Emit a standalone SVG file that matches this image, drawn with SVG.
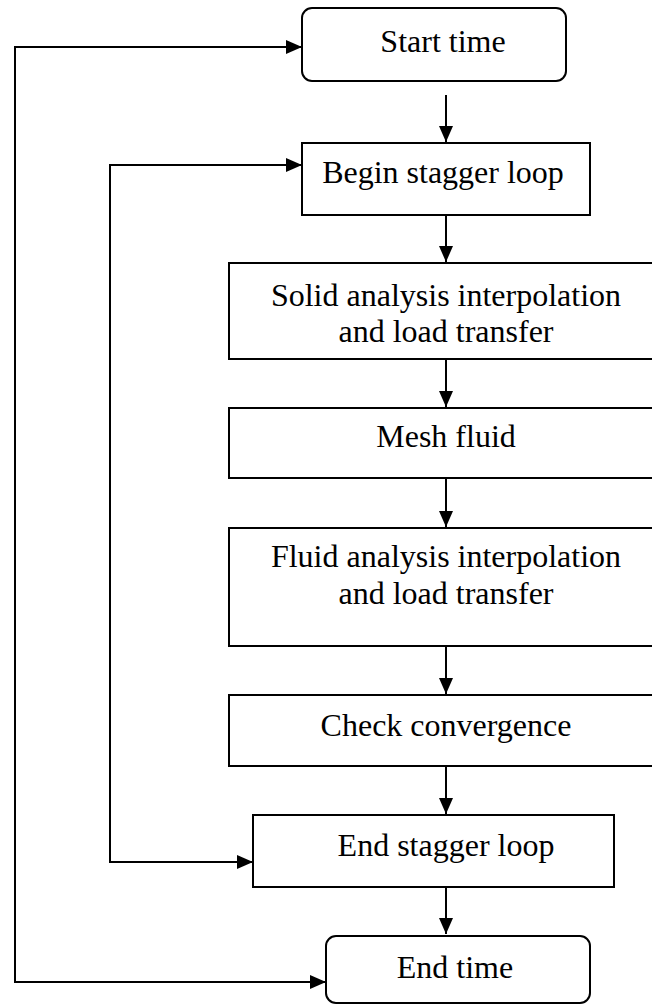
<svg xmlns="http://www.w3.org/2000/svg" width="652" height="1005" viewBox="0 0 652 1005">
<style>
.box{fill:#fff;stroke:#000;stroke-width:2}
.lbl{font-family:"Liberation Serif","Times New Roman",serif;font-size:32px;fill:#000;text-anchor:middle}
.con{fill:none;stroke:#000;stroke-width:2}
</style>
<defs>
<marker id="ah" viewBox="0 0 16 14" refX="16" refY="7" markerWidth="16" markerHeight="14" markerUnits="userSpaceOnUse" orient="auto-start-reverse">
<path d="M0,0 L16,7 L0,14 z" fill="#000"/>
</marker>
</defs>
<rect width="652" height="1005" fill="#fff"/>
<g id="connectors">
<path class="con" d="M446,95 V142" marker-end="url(#ah)"/>
<path class="con" d="M446,215 V262" marker-end="url(#ah)"/>
<path class="con" d="M446,359 V407" marker-end="url(#ah)"/>
<path class="con" d="M446,478 V527" marker-end="url(#ah)"/>
<path class="con" d="M446,646 V694" marker-end="url(#ah)"/>
<path class="con" d="M446,767 V814" marker-end="url(#ah)"/>
<path class="con" d="M446,885 V934" marker-end="url(#ah)"/>
<path class="con" d="M302,47 H15 V982 H326" marker-start="url(#ah)" marker-end="url(#ah)"/>
<path class="con" d="M302,165 H110 V862 H253" marker-start="url(#ah)" marker-end="url(#ah)"/>
</g>
<g id="start-time">
<rect class="box" x="302" y="8" width="264" height="73" rx="10"/>
<text class="lbl" x="443" y="52">Start time</text>
</g>
<g id="begin-stagger-loop">
<rect class="box" x="302" y="143" width="288" height="72"/>
<text class="lbl" x="443" y="183">Begin stagger loop</text>
</g>
<g id="solid-analysis">
<rect class="box" x="229" y="263" width="430" height="96"/>
<text class="lbl" x="446" y="305.5">Solid analysis interpolation</text>
<text class="lbl" x="446" y="342">and load transfer</text>
</g>
<g id="mesh-fluid">
<rect class="box" x="229" y="408" width="430" height="70"/>
<text class="lbl" x="446" y="447">Mesh fluid</text>
</g>
<g id="fluid-analysis">
<rect class="box" x="229" y="528" width="430" height="118"/>
<text class="lbl" x="446" y="567">Fluid analysis interpolation</text>
<text class="lbl" x="446" y="604">and load transfer</text>
</g>
<g id="check-convergence">
<rect class="box" x="229" y="695" width="430" height="71"/>
<text class="lbl" x="446" y="736">Check convergence</text>
</g>
<g id="end-stagger-loop">
<rect class="box" x="253" y="815" width="361" height="72"/>
<text class="lbl" x="446" y="856">End stagger loop</text>
</g>
<g id="end-time">
<rect class="box" x="326" y="936" width="264" height="67" rx="10"/>
<text class="lbl" x="455" y="978">End time</text>
</g>
</svg>
